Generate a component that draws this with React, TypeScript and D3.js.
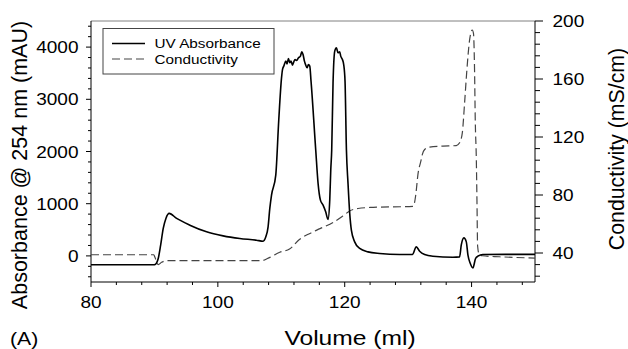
import React from "react";
import * as d3 from "d3";

const uvVolume = [80, 89.9, 90.1, 90.6, 90.98, 91.39, 91.81, 92.33, 93.5, 95.59, 98.22, 100.83, 103.46, 106.09, 107.13, 107.56, 107.92, 108.19, 108.46, 109.13, 109.6, 110.03, 110.19, 110.39, 110.71, 110.91, 111.13, 111.34, 111.54, 111.76, 111.97, 112.17, 112.39, 112.71, 113.02, 113.23, 113.43, 113.65, 113.86, 114.06, 114.28, 114.49, 114.69, 115.43, 115.8, 116.17, 116.59, 117.0, 117.37, 117.64, 117.8, 117.95, 118.16, 118.43, 118.69, 118.94, 119.21, 119.37, 119.64, 119.84, 120.05, 120.27, 120.52, 120.79, 121.05, 121.57, 122.36, 123.67, 125.51, 128.66, 130.66, 131.29, 131.81, 132.6, 133.9, 137.06, 138.11, 138.37, 138.79, 139.17, 139.43, 139.8, 140.21, 140.63, 141.0, 141.78, 150];
const uvAbsorbance = [-170, -170, -165, -50, 205, 526, 718, 814, 718, 589, 461, 384, 334, 301, 282, 365, 557, 910, 1165, 1549, 2600, 3400, 3570, 3635, 3731, 3679, 3781, 3699, 3731, 3655, 3718, 3762, 3743, 3795, 3827, 3910, 3858, 3731, 3655, 3603, 3666, 3635, 3347, 2029, 1390, 1069, 973, 845, 700, 1069, 1645, 2029, 3315, 3923, 3987, 3891, 3910, 3827, 3762, 3666, 3347, 2029, 1390, 814, 493, 269, 142, 77, 46, 27, 27, 173, 90, 27, -6, -25, -19, 205, 345, 269, 13, -146, -230, -50, -6, 27, 30];

const condVolume = [80, 89.9, 90.08, 90.6, 91.13, 91.92, 106.9, 108.19, 109.76, 111.3, 112.9, 114.5, 116.1, 118.16, 119.73, 120.79, 122.1, 123.94, 130.8, 131.2, 131.54, 132.07, 132.24, 132.6, 133.39, 135.48, 137.59, 138.11, 138.54, 138.9, 139.26, 139.69, 140.11, 140.3, 140.47, 140.58, 140.75, 140.85, 140.95, 141.2, 141.7, 144.4, 150];
const condValue = [38.8, 38.8, 37.0, 32.0, 33.6, 34.7, 34.7, 37.0, 40.5, 42.7, 49.5, 53.5, 56.8, 61.0, 65.6, 69.0, 70.7, 71.4, 72.2, 80, 94, 104.5, 108, 111.4, 113, 113.7, 114.1, 116, 122.9, 143.5, 166.3, 187, 193.8, 191.5, 166.3, 132, 104.5, 76, 45, 39, 38.1, 37.4, 36.5];

const xMajorTicks = [80, 100, 120, 140];
const xMinorTicks = [84, 88, 92, 96, 104, 108, 112, 116, 124, 128, 132, 136, 144, 148];
const leftMajorTicks = [0, 1000, 2000, 3000, 4000];
const rightMajorTicks = [40, 80, 120, 160, 200];

const legendLabels = ["UV Absorbance", "Conductivity"];

const W = 628, H = 349;
const L = 91, R = 535, T = 21, B = 282;
const FONT = "'Liberation Sans', Arial, Helvetica, sans-serif";

export default function App() {
  const x = d3.scaleLinear().domain([80, 150]).range([L, R]);
  const yL = d3.scaleLinear().domain([-500, 4500]).range([B, T]);
  const yR = d3.scaleLinear().domain([20, 200]).range([B, T]);

  const uvData = uvVolume.map((v, i) => [v, uvAbsorbance[i]] as [number, number]);
  const condData = condVolume.map((v, i) => [v, condValue[i]] as [number, number]);

  const uvLine = d3.line<[number, number]>().x(d => x(d[0])).y(d => yL(d[1])).curve(d3.curveMonotoneX);
  const condLine = d3.line<[number, number]>().x(d => x(d[0])).y(d => yR(d[1])).curve(d3.curveMonotoneX);

  const leftMinor = d3.range(-400, 4500, 200).filter(v => v % 1000 !== 0);
  const rightMinor = d3.range(24, 200, 8).filter(v => v % 40 !== 0);

  const txt = (x0: number, y0: number, s: string, size: number, anchor: string, sx: number, key?: string) => (
    <text key={key} transform={`translate(${x0},${y0}) scale(${sx},1)`} textAnchor={anchor as any} fontSize={size} fontFamily={FONT} fill="#000">{s}</text>
  );

  return (
    <svg width={W} height={H} style={{ position: "absolute", left: 0, top: 0, background: "#fff" }}>
      <defs>
        <clipPath id="plot"><rect x={L} y={T - 2} width={R - L} height={B - T + 4} /></clipPath>
      </defs>
      <rect x={0} y={0} width={W} height={H} fill="#fff" />
      {/* frame */}
      <line x1={L} x2={R} y1={T} y2={T} stroke="#808080" strokeWidth={1} />
      <line x1={L} x2={R} y1={B} y2={B} stroke="#000" strokeWidth={1} />
      <line x1={L} x2={L} y1={T} y2={B} stroke="#000" strokeWidth={1} />
      <line x1={R} x2={R} y1={T} y2={B} stroke="#000" strokeWidth={1} />

      {/* x ticks */}
      {xMajorTicks.map(v => <line key={"xm" + v} x1={x(v)} x2={x(v)} y1={B} y2={B + 5} stroke="#000" />)}
      {xMinorTicks.map(v => <line key={"xn" + v} x1={x(v)} x2={x(v)} y1={B} y2={B + 3} stroke="#000" />)}
      {xMajorTicks.map(v => txt(x(v), 308, String(v), 17, "middle", 1.12, "xl" + v))}

      {/* left ticks */}
      {leftMajorTicks.map(v => <line key={"lm" + v} x1={L - 5} x2={L} y1={yL(v)} y2={yL(v)} stroke="#000" />)}
      {leftMinor.map(v => <line key={"ln" + v} x1={L - 3} x2={L} y1={yL(v)} y2={yL(v)} stroke="#000" />)}
      {leftMajorTicks.map(v => txt(78.5, yL(v) + 6, String(v), 17, "end", 1.12, "ll" + v))}

      {/* right ticks */}
      {rightMajorTicks.map(v => <line key={"rm" + v} x1={R} x2={R + 8} y1={yR(v)} y2={yR(v)} stroke="#000" />)}
      {rightMinor.map(v => <line key={"rn" + v} x1={R} x2={R + 5} y1={yR(v)} y2={yR(v)} stroke="#000" />)}
      {rightMajorTicks.map(v => txt(552.5, yR(v) + 6, String(v), 17, "start", 1.12, "rl" + v))}

      {/* titles */}
      <text transform="translate(26.5,165) rotate(-90)" textAnchor="middle" fontSize={21.5} fontFamily={FONT}>Absorbance @ 254 nm (mAU)</text>
      <text transform="translate(624,149) rotate(-90)" textAnchor="middle" fontSize={21.3} fontFamily={FONT}>Conductivity (mS/cm)</text>
      {txt(350, 344.5, "Volume (ml)", 20.5, "middle", 1.2)}
      {txt(10, 344.5, "(A)", 18, "start", 1.18)}

      {/* data */}
      <g clipPath="url(#plot)">
        <path d={condLine(condData) || ""} fill="none" stroke="#444" strokeWidth={1.2} strokeDasharray="8,4" />
        <path d={uvLine(uvData) || ""} fill="none" stroke="#000" strokeWidth={1.6} />
      </g>

      {/* legend */}
      <rect x={103} y={28.5} width={171} height={45.5} fill="#fff" stroke="#444" strokeWidth={1} />
      <line x1={112} x2={145} y1={43.5} y2={43.5} stroke="#000" strokeWidth={1.6} />
      <line x1={112} x2={145} y1={59} y2={59} stroke="#444" strokeWidth={1.2} strokeDasharray="8,4" />
      {txt(154.5, 48, legendLabels[0], 13.3, "start", 1.15)}
      {txt(154.5, 63.5, legendLabels[1], 13.3, "start", 1.15)}
    </svg>
  );
}
